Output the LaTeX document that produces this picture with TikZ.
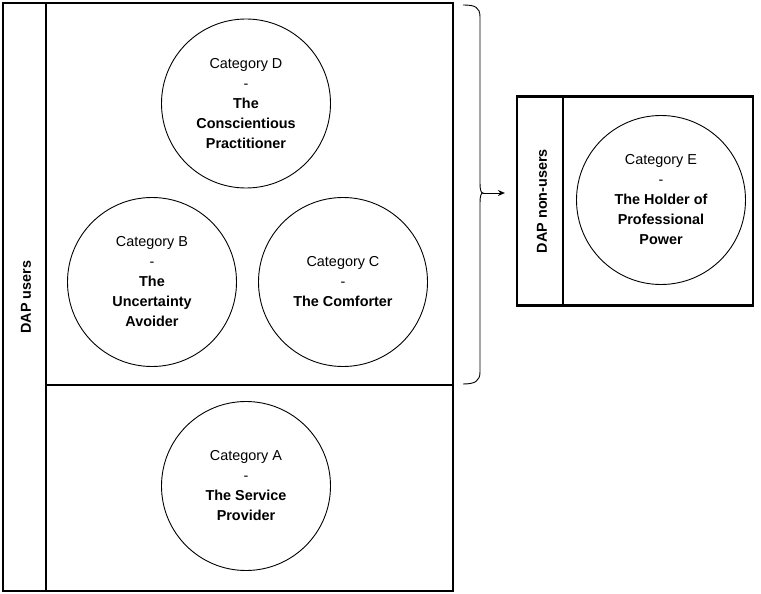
\documentclass[tikz,border=0pt]{standalone}
\usepackage{fontspec}
\setmainfont{Liberation Sans}
\usetikzlibrary{arrows.meta}
\begin{document}
\begin{tikzpicture}[x=1pt,y=-1pt,
  frame/.style={draw, line width=2.2pt, rectangle, inner sep=0pt},
  cat/.style={draw, line width=0.9pt, circle, minimum size=169pt, inner sep=0pt, align=center,
    font=\fontsize{14.4}{20}\selectfont},
  lbl/.style={rotate=90, font=\fontsize{14.4}{17}\selectfont\bfseries}]
\useasboundingbox (0,0) rectangle (761,594);
% DAP users
\node[frame, minimum width=450pt, minimum height=588pt] (users) at (228,297) {};
\node[frame, minimum width=43pt, minimum height=588pt] (ustrip) at (24.5,297) {};
\node[lbl] (ulabel) at (26,297) {DAP users};
\node[frame, minimum width=407pt, minimum height=206pt] (lower) at (249.5,488) {};
% circles
\node[cat] (D) at (246,103.5) {Category D\\-\\\textbf{The}\\\textbf{Conscientious}\\\textbf{Practitioner}};
\node[cat] (B) at (152,282) {Category B\\-\\\textbf{The}\\\textbf{Uncertainty}\\\textbf{Avoider}};
\node[cat] (C) at (343,282) {Category C\\-\\\textbf{The Comforter}};
\node[cat] (A) at (246,486) {Category A\\-\\\textbf{The Service}\\\textbf{Provider}};
% DAP non-users
\node[frame, minimum width=236pt, minimum height=209pt] (non) at (635,201) {};
\node[frame, minimum width=46pt, minimum height=209pt] (nstrip) at (540,201) {};
\node[lbl] (nlabel) at (542,201) {DAP non-users};
\node[cat] (E) at (661,200) {Category E\\-\\\textbf{The Holder of}\\\textbf{Professional}\\\textbf{Power}};
% brace
\coordinate (btop) at (463,5);
\coordinate (bbot) at (463,384);
\coordinate (tip) at (483,193);
\draw[line width=0.9pt] (btop) .. controls (475,5) and (480,7) .. (480,17) -- (480,183)
  .. controls (480,190) and (481,193) .. (tip)
  .. controls (481,193) and (480,196) .. (480,203) -- (480,372)
  .. controls (480,381) and (475,384) .. (bbot);
\draw[line width=0.9pt, -{Stealth[length=7pt,width=6pt]}, shorten >=11pt] (tip) -- (tip -| non.west);
\end{tikzpicture}
\end{document}
